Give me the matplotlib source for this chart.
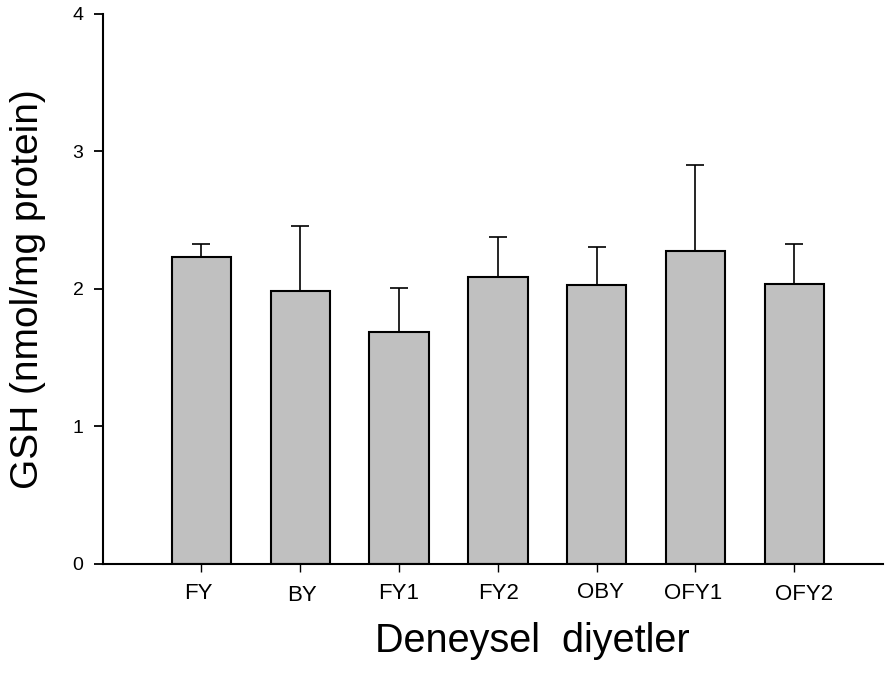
import matplotlib
matplotlib.use("Agg")
import matplotlib.pyplot as plt
from matplotlib.transforms import ScaledTranslation

categories = ["FY", "BY", "FY1", "FY2", "OBY", "OFY1", "OFY2"]
means = [2.23, 1.985, 1.69, 2.09, 2.03, 2.275, 2.035]
errors = [0.095, 0.475, 0.32, 0.285, 0.275, 0.63, 0.29]
yticks = [0, 1, 2, 3, 4]

plt.rcParams['font.family'] = ['Liberation Sans', 'DejaVu Sans']

fig = plt.figure(figsize=(8.85, 6.79), dpi=100)
ax = fig.add_axes([0.116, 0.1694, 0.882, 0.81])

x = list(range(len(categories)))
ax.bar(x, means, width=0.6, color='#c0c0c0', edgecolor='black', linewidth=1.5, zorder=2)
ax.errorbar(x, means, yerr=[[0]*len(errors), errors], fmt='none', ecolor='black',
            elinewidth=1.2, capsize=6.4, capthick=1.2, zorder=1)

ax.set_xlim(-1, 6.9)
ax.set_ylim(0, 4)
ax.set_yticks(yticks)
ax.set_yticklabels([str(v) for v in yticks], fontsize=14)
ax.set_xticks(x)
ax.set_xticklabels(categories, fontsize=16)

for s in ['top', 'right']:
    ax.spines[s].set_visible(False)
for s in ['left', 'bottom']:
    ax.spines[s].set_linewidth(1.5)

ax.tick_params(axis='y', direction='out', length=6.3, width=1.3, pad=7.5)
ax.tick_params(axis='x', direction='out', length=5.5, width=1.0, pad=8)

# slight label shifts as in the reference (pixels)
shifts = [(-3.5, 0), (1.7, -2.3), (0, 0), (1, 0), (4, 1), (-2.7, 0), (10, -1.5)]
for lbl, (dx, dy) in zip(ax.get_xticklabels(), shifts):
    lbl.set_transform(lbl.get_transform() + ScaledTranslation(dx / 100, dy / 100, fig.dpi_scale_trans))

fig.text(0.0316, 0.574, "GSH (nmol/mg protein)", rotation=90, fontsize=28,
         ha='center', va='center')
fig.text(0.6010, 0.0399, "Deneysel  diyetler", fontsize=28.5, ha='center', va='baseline')

fig.savefig("out.png", dpi=100)
